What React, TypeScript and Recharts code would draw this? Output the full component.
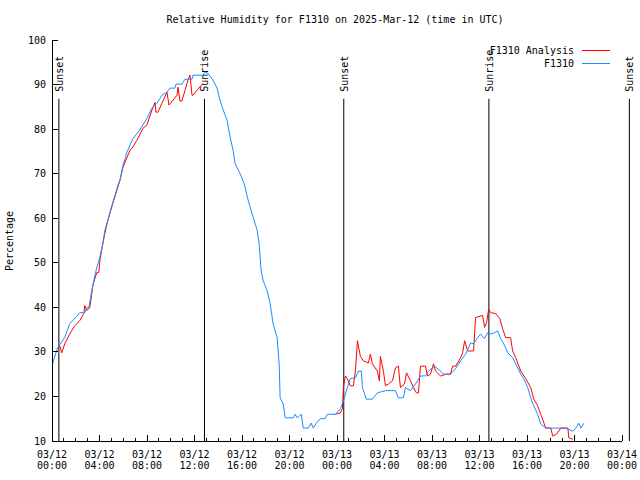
import React from 'react';
import { LineChart, Line, XAxis, YAxis, ReferenceLine, Legend } from 'recharts';

// hours since 2025-03-12 00:00 UTC, relative humidity %
const analysisNight1: [number, number][] = [
  [0.65, 31.4], [0.82, 29.8], [1.07, 31.8], [1.49, 34], [1.92, 35.9], [2.34, 37], [2.68, 38.6],
  [2.76, 40.4], [2.93, 39.3], [3.18, 39.9], [3.35, 43], [3.43, 44.9], [3.77, 47.8], [3.94, 47.8],
  [4.03, 50.5], [4.28, 54.3], [4.45, 56.6], [4.7, 59.5], [5.12, 63.3], [5.55, 67], [5.72, 68.5],
  [5.97, 71.4], [6.56, 75.2], [6.81, 76], [7.15, 77.5], [7.66, 80.2], [7.99, 80.9], [8.41, 84.2],
  [8.67, 86], [8.75, 83.8], [8.92, 83.8], [9.68, 88.3], [9.85, 85.4], [10.53, 87.6], [10.61, 89.4],
  [10.78, 86.3], [10.94, 86.3], [11.45, 91], [11.62, 92.1], [11.79, 87.6], [11.87, 87.6], [12.72, 90.3],
];

const analysisNight2: [number, number][] = [
  [23.86, 16], [24.28, 16.3], [24.45, 17.2], [24.54, 22], [24.7, 24.6], [24.87, 24], [25.12, 22.4],
  [25.38, 22.4], [25.55, 25.7], [25.72, 32.5], [25.97, 29], [26.22, 28], [26.64, 27.5], [26.81, 29.5],
  [26.98, 27.3], [27.4, 25.7], [27.57, 23.5], [27.65, 29], [27.91, 25.7], [28.08, 22.4], [28.33, 22.8],
  [28.67, 23.5], [28.92, 26.4], [29.17, 26.8], [29.34, 22], [29.68, 22.8], [29.85, 25.3], [30.19, 23.5],
  [30.44, 22], [30.69, 20.8], [30.86, 20.8], [31.03, 26.8], [31.45, 26.8], [31.62, 24.6], [31.87, 25],
  [32.13, 27.3], [32.3, 25.7], [32.72, 24.6], [33.22, 25], [33.56, 25], [33.73, 26.8], [33.98, 26.8],
  [34.15, 27.5], [34.41, 28.7], [34.58, 29.8], [34.75, 32.5], [35.0, 30.2], [35.5, 30.2], [35.67, 37.7],
  [36.26, 38.2], [36.43, 35.5], [36.6, 36.6], [36.77, 39.6], [36.94, 38.8], [37.36, 38.6], [37.7, 37.5],
  [37.95, 35.2], [38.2, 33.2], [38.62, 33.2], [38.79, 30.2], [39.05, 28.7], [39.47, 25.7], [39.89, 24],
  [40.31, 22], [40.57, 19.4], [40.9, 17.9], [41.16, 16], [41.58, 12.9], [42.0, 12.9], [42.17, 11.1],
  [42.51, 11.6], [42.85, 12.9], [43.44, 12.9], [43.52, 10.7], [43.86, 10.4],
];

const station: [number, number][] = [
  [0, 27], [0.48, 31], [1.07, 33.2], [1.49, 36.3], [2.08, 38], [2.34, 38.8], [2.76, 38.8], [2.93, 39.9],
  [3.1, 39.9], [3.35, 43.7], [3.6, 47], [3.77, 48.9], [4.03, 51.2], [4.28, 54.3], [4.45, 57.3], [4.7, 59.5],
  [5.04, 62.9], [5.29, 65], [5.55, 67.4], [5.72, 68.5], [5.97, 71.8], [6.31, 74.8], [6.81, 77.9],
  [7.4, 79.8], [7.99, 82.4], [8.41, 84.7], [8.84, 85.8], [9.26, 87.6], [9.68, 88.3], [9.93, 89.2],
  [10.36, 89.2], [10.44, 90.1], [10.94, 90.1], [11.2, 91.2], [11.79, 91.2], [11.87, 92.1], [12.72, 92.1],
  [12.89, 92.8], [13.14, 92.5], [13.56, 91], [13.9, 89.2], [14.15, 86.5], [14.32, 85], [14.74, 82],
  [15.0, 78.2], [15.25, 75.2], [15.42, 72.3], [15.84, 70], [16.18, 67.8], [16.52, 64], [16.94, 60.2],
  [17.28, 57.3], [17.44, 54.3], [17.61, 48.3], [17.78, 46], [18.12, 43.7], [18.37, 40.8], [18.62, 36.3],
  [18.96, 33.2], [19.13, 27.3], [19.21, 19.7], [19.47, 18.3], [19.64, 15.2], [20.31, 15.2], [20.48, 16],
  [20.65, 15.2], [20.99, 16], [21.16, 12.9], [21.58, 12.9], [21.83, 14], [22.0, 12.9], [22.25, 14],
  [22.59, 15], [23.01, 15], [23.18, 16], [23.86, 16], [24.28, 17.2], [24.54, 19], [24.87, 22],
  [25.12, 24], [25.55, 24.2], [25.8, 25.7], [26.05, 25.7], [26.14, 22], [26.47, 19.4], [26.98, 19.4],
  [27.4, 20.8], [28.08, 21.3], [28.92, 21.3], [29.17, 19.7], [29.59, 19.7], [29.76, 22], [30.19, 21.3],
  [30.61, 22.8], [31.03, 24.6], [31.45, 24.6], [31.71, 25.7], [32.21, 26.8], [32.72, 25.7], [32.97, 25],
  [33.56, 25], [33.98, 26.2], [34.41, 28], [34.83, 29.5], [35.25, 32], [35.5, 31.8], [35.84, 33.2],
  [36.09, 34], [36.43, 33], [36.68, 34.3], [36.94, 34], [37.27, 34.3], [37.53, 34.7], [37.78, 33],
  [38.12, 31.4], [38.37, 29.8], [38.79, 28.7], [39.05, 27.3], [39.47, 25], [39.72, 24], [40.06, 22],
  [40.31, 19.7], [40.57, 17.9], [40.9, 16], [41.16, 13.8], [41.58, 12.9], [43.27, 12.9], [43.86, 12.2],
  [44.11, 12.9], [44.37, 14], [44.54, 12.9], [44.79, 14],
];

const majorHours = [0, 4, 8, 12, 16, 20, 24, 28, 32, 36, 40, 44, 48];
const tickDays = ['03/12', '03/12', '03/12', '03/12', '03/12', '03/12', '03/13', '03/13', '03/13', '03/13', '03/13', '03/13', '03/14'];
const tickTimes = ['00:00', '04:00', '08:00', '12:00', '16:00', '20:00', '00:00', '04:00', '08:00', '12:00', '16:00', '20:00', '00:00'];
const hourTicks = Array.from({ length: 49 }, (_, i) => i);
const yTicks = [10, 20, 30, 40, 50, 60, 70, 80, 90, 100];

const sunHours = [0.58, 12.84, 24.57, 36.79, 48.62];
const sunLabels = ['Sunset', 'Sunrise', 'Sunset', 'Sunrise', 'Sunset'];
const MARKER_TOP = 86.8;

const TITLE = 'Relative Humidity for F1310 on 2025-Mar-12 (time in UTC)';
const Y_LABEL = 'Percentage';
const NAME_ANALYSIS = 'F1310 Analysis';
const NAME_STATION = 'F1310';
const legendOrder = [NAME_ANALYSIS, NAME_STATION];
const RED = '#ff0000';
const BLUE = '#1a8cff';

const FONT = '"DejaVu Sans Mono", "Liberation Mono", monospace';

const toPoints = (arr: [number, number][]) => arr.map(([h, v]) => ({ h, v }));

const BottomTick = (props: any) => {
  const { x, y, payload } = props;
  const idx = majorHours.indexOf(payload.value);
  const major = idx >= 0;
  return (
    <g>
      <line x1={x} x2={x} y1={y} y2={y - (major ? 6 : 3)} stroke="#000" shapeRendering="crispEdges" />
      {major && (
        <text x={x} y={y + 17} textAnchor="middle" fontFamily={FONT} fontSize={10} fill="#000">
          {tickDays[idx]}
        </text>
      )}
      {major && (
        <text x={x} y={y + 28} textAnchor="middle" fontFamily={FONT} fontSize={10} fill="#000">
          {tickTimes[idx]}
        </text>
      )}
    </g>
  );
};

const TopTick = (props: any) => {
  const { x, y, payload } = props;
  const major = majorHours.indexOf(payload.value) >= 0;
  return <line x1={x} x2={x} y1={y} y2={y + (major ? 6 : 3)} stroke="#000" shapeRendering="crispEdges" />;
};

const LeftTick = (props: any) => {
  const { x, y, payload } = props;
  return (
    <g>
      <line x1={x} x2={x + 6} y1={y} y2={y} stroke="#000" shapeRendering="crispEdges" />
      <text x={x - 6} y={y} dy="0.35em" textAnchor="end" fontFamily={FONT} fontSize={10} fill="#000">
        {payload.value}
      </text>
    </g>
  );
};

const RightTick = (props: any) => {
  const { x, y } = props;
  return <line x1={x} x2={x - 6} y1={y} y2={y} stroke="#000" shapeRendering="crispEdges" />;
};

const renderSunLabel = (props: any, text: string) => {
  const vb = props.viewBox || {};
  return (
    <text
      transform={`translate(${vb.x + 4}, ${vb.y - 7}) rotate(-90)`}
      x={0}
      y={0}
      textAnchor="start"
      fontFamily={FONT}
      fontSize={10}
      fill="#000"
    >
      {text}
    </text>
  );
};

const LegendContent = (props: any) => {
  const items = (props.payload || [])
    .filter((p: any) => p.type !== 'none' && legendOrder.indexOf(p.value) >= 0)
    .slice()
    .sort((a: any, b: any) => legendOrder.indexOf(a.value) - legendOrder.indexOf(b.value));
  return (
    <div style={{ fontFamily: FONT, fontSize: 10, color: '#000' }}>
      {items.map((p: any) => (
        <div
          key={p.value}
          style={{ display: 'flex', justifyContent: 'flex-end', alignItems: 'center', height: 13, lineHeight: '13px' }}
        >
          <span>{p.value}</span>
          <svg width={36} height={13} style={{ display: 'block' }}>
            <line x1={8} x2={36} y1={6.5} y2={6.5} stroke={p.color} strokeWidth={1} />
          </svg>
        </div>
      ))}
    </div>
  );
};

export default function App() {
  const axisLine = { stroke: '#000', shapeRendering: 'crispEdges' } as any;
  return (
    <div style={{ position: 'absolute', left: 0, top: 0, width: 640, height: 480, background: '#fff' }}>
      <LineChart width={640} height={480} margin={{ top: 40, right: 18, bottom: 0, left: 0 }}>
        <XAxis
          dataKey="h"
          type="number"
          domain={[0, 48]}
          ticks={hourTicks}
          interval={0}
          allowDataOverflow
          height={39}
          tickSize={0}
          tickMargin={0}
          tickLine={false}
          axisLine={axisLine}
          tick={<BottomTick />}
        />
        <XAxis
          xAxisId="top"
          orientation="top"
          dataKey="h"
          type="number"
          domain={[0, 48]}
          ticks={hourTicks}
          interval={0}
          allowDataOverflow
          height={0}
          tickSize={0}
          tickMargin={0}
          tickLine={false}
          axisLine={axisLine}
          tick={<TopTick />}
        />
        <YAxis
          type="number"
          domain={[10, 100]}
          ticks={yTicks}
          interval={0}
          allowDataOverflow
          width={52}
          tickSize={0}
          tickMargin={0}
          tickLine={false}
          axisLine={axisLine}
          tick={<LeftTick />}
        />
        <YAxis
          yAxisId="right"
          orientation="right"
          type="number"
          domain={[10, 100]}
          ticks={yTicks}
          interval={0}
          allowDataOverflow
          width={0}
          tickSize={0}
          tickMargin={0}
          tickLine={false}
          axisLine={axisLine}
          tick={<RightTick />}
        />
        {sunHours.map((h, i) => (
          <ReferenceLine
            key={`sun-${i}`}
            segment={[
              { x: h, y: MARKER_TOP },
              { x: h, y: 10 },
            ]}
            stroke="#000"
            strokeWidth={1}
            ifOverflow="visible"
            label={(p: any) => renderSunLabel(p, sunLabels[i])}
          />
        ))}
        <Line
          data={toPoints(analysisNight1)}
          dataKey="v"
          name={NAME_ANALYSIS}
          stroke={RED}
          strokeWidth={1}
          dot={false}
          activeDot={false}
          isAnimationActive={false}
          type="linear"
        />
        <Line
          data={toPoints(analysisNight2)}
          dataKey="v"
          name={`${NAME_ANALYSIS} (2)`}
          stroke={RED}
          strokeWidth={1}
          dot={false}
          activeDot={false}
          isAnimationActive={false}
          type="linear"
          legendType="none"
        />
        <Line
          data={toPoints(station)}
          dataKey="v"
          name={NAME_STATION}
          stroke={BLUE}
          strokeWidth={1}
          dot={false}
          activeDot={false}
          isAnimationActive={false}
          type="linear"
        />
        <Legend
          layout="vertical"
          align="center"
          verticalAlign="middle"
          wrapperStyle={{ left: 435, top: 43.5, width: 175 }}
          content={<LegendContent />}
        />
        <text x={335} y={23} textAnchor="middle" fontFamily={FONT} fontSize={10} fill="#000">
          {TITLE}
        </text>
        <text transform="translate(13, 241) rotate(-90)" textAnchor="middle" fontFamily={FONT} fontSize={10} fill="#000">
          {Y_LABEL}
        </text>
      </LineChart>
    </div>
  );
}
